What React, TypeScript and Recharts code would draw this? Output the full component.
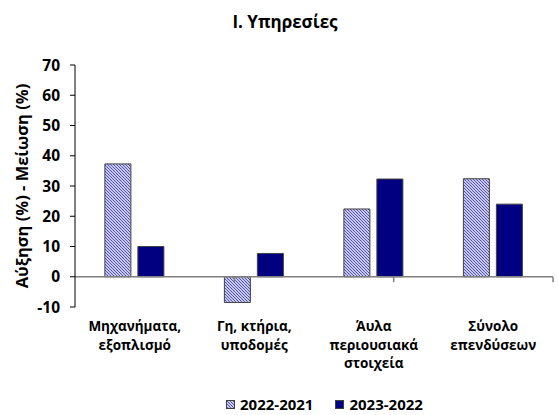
import { Bar, BarChart, ReferenceLine, XAxis, YAxis, Label } from 'recharts'

const categories = [
  ['Μηχανήματα,', 'εξοπλισμό'],
  ['Γη, κτήρια,', 'υποδομές'],
  ['Άυλα', 'περιουσιακά', 'στοιχεία'],
  ['Σύνολο', 'επενδύσεων'],
]
const series2022 = [37.3, -8.5, 22.4, 32.4]
const series2023 = [10.0, 7.7, 32.3, 24.0]
const yTicks = [-10, 0, 10, 20, 30, 40, 50, 60, 70]
const seriesNames = ['2022-2021', '2023-2022']

const FONT = '"Open Sans", "Noto Sans", sans-serif'
const NAVY = '#000080'

const rows = categories.map((lines, i) => ({
  name: lines.join(' '),
  lines,
  a: series2022[i],
  b: series2023[i],
}))

function CategoryTick(props: any) {
  const { x, y, payload } = props
  const lines: string[] = rows[payload.index]?.lines ?? []
  return (
    <g>
      {lines.map((l, i) => (
        <text
          key={i}
          x={x}
          y={y + 16 + i * 18.5}
          textAnchor="middle"
          fontFamily={FONT}
          fontWeight={700}
          fontSize={13.5}
          fill="#000"
        >
          {l}
        </text>
      ))}
    </g>
  )
}

function LegendBox() {
  return (
    <div
      style={{
        position: 'absolute',
        left: 226,
        top: 397,
        display: 'flex',
        gap: 22,
        fontFamily: FONT,
        fontWeight: 700,
        fontSize: 15,
        lineHeight: '15px',
        whiteSpace: 'nowrap',
      }}
    >
      {seriesNames.map((n, i) => (
        <span key={n} style={{ display: 'flex', alignItems: 'center', gap: 5 }}>
          <svg width={9} height={9}>
            <rect x={0.5} y={0.5} width={8} height={8} fill={i === 0 ? 'url(#hatch)' : NAVY} stroke="#404040" strokeWidth={1} />
          </svg>
          {n}
        </span>
      ))}
    </div>
  )
}

export default function App() {
  return (
    <div style={{ position: 'absolute', left: 0, top: 0, width: 558, height: 415, background: '#fff' }}>
      <div
        style={{
          position: 'absolute',
          top: 10,
          left: 6,
          width: 558,
          textAlign: 'center',
          fontFamily: FONT,
          fontWeight: 700,
          fontSize: 17,
        }}
      >
        I. Υπηρεσίες
      </div>
      <BarChart
        width={558}
        height={415}
        data={rows}
        margin={{ top: 65, right: 5, bottom: 48, left: 0 }}
        barCategoryGap="25%"
        barGap={7}
      >
        <defs>
          <pattern id="hatch" width={3} height={3} patternUnits="userSpaceOnUse">
            <rect width={3} height={3} fill="#c8c8ee" />
            <path d="M-1,-1 l2,2 M0,0 l3,3 M2,2 l2,2" stroke="#4a4aa8" strokeWidth={0.8} />
          </pattern>
        </defs>
        <XAxis
          dataKey="name"
          axisLine={false}
          tickLine={false}
          tick={<CategoryTick />}
          interval={0}
          height={60}
        />
        <XAxis xAxisId="n" type="number" domain={[0, 4]} hide />
        <YAxis
          domain={[-10, 70]}
          ticks={yTicks}
          interval={0}
          width={75}
          axisLine={{ stroke: '#000', strokeWidth: 1 }}
          tickLine={{ stroke: '#000' }}
          tickSize={5}
          tickMargin={10}
          tick={{ fontFamily: FONT, fontWeight: 700, fontSize: 15.5, fill: '#000' }}
        >
          <Label
            value="Αύξηση (%) - Μείωση (%)"
            angle={-90}
            position="insideLeft"
            offset={22}
            style={{ fontFamily: FONT, fontWeight: 700, fontSize: 16.5, fill: '#000', textAnchor: 'middle' }}
          />
        </YAxis>
        <Bar dataKey="a" fill="url(#hatch)" stroke="#404040" strokeWidth={1} isAnimationActive={false} />
        <Bar dataKey="b" fill={NAVY} stroke="#404040" strokeWidth={1} isAnimationActive={false} />
        <ReferenceLine y={0} stroke="#808080" strokeWidth={1.5} />
        {[1, 2, 3].map((v) => (
          <ReferenceLine
            key={v}
            xAxisId="n"
            segment={[
              { x: v, y: 0 },
              { x: v, y: -1.8 },
            ]}
            stroke="#808080"
            strokeWidth={1.5}
          />
        ))}
      </BarChart>
      <LegendBox />
    </div>
  )
}
